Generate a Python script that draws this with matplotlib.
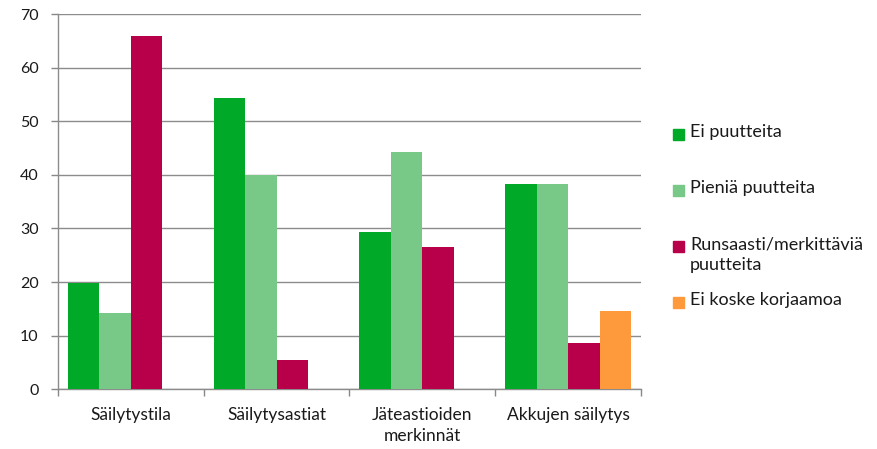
import matplotlib.pyplot as plt
from matplotlib.patches import Rectangle
import numpy as np

plt.rcParams["font.family"] = ["Lato", "DejaVu Sans"]

categories = ["Säilytystila", "Säilytysastiat", "Jäteastioiden\nmerkinnät", "Akkujen säilytys"]
series_names = ["Ei puutteita", "Pieniä puutteita", "Runsaasti/merkittäviä\npuutteita", "Ei koske korjaamoa"]
ei_puutteita = [19.9, 54.4, 29.3, 38.3]
pienia_puutteita = [14.2, 40.0, 44.2, 38.3]
runsaasti = [65.9, 5.5, 26.5, 8.7]
ei_koske = [0, 0, 0, 14.6]
colors = ["#00AA28", "#78C887", "#B8004A", "#FF9A3C"]
y_ticks = [0, 10, 20, 30, 40, 50, 60, 70]

values = [ei_puutteita, pienia_puutteita, runsaasti, ei_koske]

fig = plt.figure(figsize=(8.78, 4.49), dpi=100)
ax = fig.add_axes([58 / 878, 1 - 389.3 / 449, 583 / 878, 375.3 / 449])

x = np.arange(len(categories))
n = len(values)
width = 1 / (n + 0.62)
for i, (vals, col) in enumerate(zip(values, colors)):
    offs = (i - (n - 1) / 2) * width
    ax.bar(x + offs, vals, width, color=col, zorder=3)

ax.set_xlim(-0.5, len(categories) - 0.5)
ax.set_ylim(0, 70)
ax.set_yticks(y_ticks)
ax.set_xticks(x)
ax.set_xticklabels(categories, fontsize=12.5, color="#1a1a1a", linespacing=1.35)
ax.set_xticks(np.arange(len(categories) + 1) - 0.5, minor=True)
ax.tick_params(axis="x", which="major", length=0, pad=13)
ax.tick_params(axis="x", which="minor", length=5, color="#888888", width=1)
ax.tick_params(axis="y", length=5, color="#888888", width=1, labelsize=11.5,
               labelcolor="#1a1a1a", pad=9)

ax.grid(axis="y", color="#8c8c8c", linewidth=1.0, zorder=0)
for s in ["top", "right"]:
    ax.spines[s].set_visible(False)
for s in ["left", "bottom"]:
    ax.spines[s].set_color("#8c8c8c")
    ax.spines[s].set_linewidth(1.0)

# legend drawn by hand to mimic the Excel layout
legend_y = [134, 190, 246, 302]
for name, col, ly in zip(series_names, colors, legend_y):
    fig.add_artist(Rectangle((673 / 878, 1 - (ly + 5.5) / 449), 11 / 878, 11 / 449,
                             transform=fig.transFigure, color=col))
    fig.text(690 / 878, 1 - (ly - 10) / 449, name, fontsize=13, color="#1a1a1a",
             va="top", ha="left", linespacing=1.35)

fig.savefig("out.png", dpi=100)
